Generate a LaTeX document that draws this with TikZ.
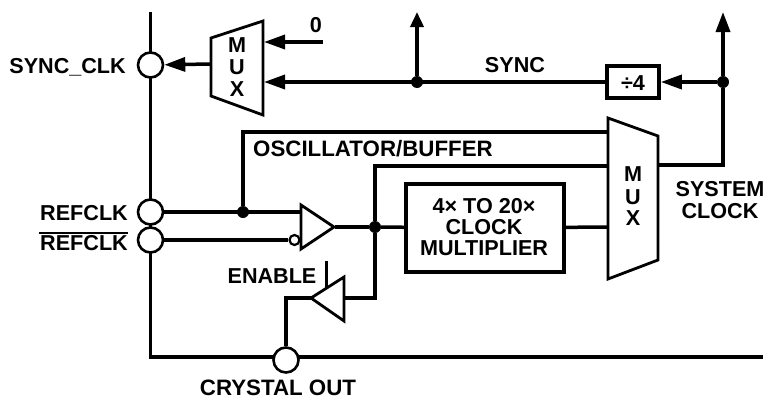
\documentclass[tikz,border=0pt]{standalone}
\usepackage{fontspec}
\setmainfont{Liberation Sans}
\usetikzlibrary{arrows.meta,calc}
\tikzset{
  wire/.style={line width=3.5pt,line cap=butt,line join=miter},
  arr/.style={wire,-{Triangle[length=21pt,width=14pt]}},
  arrup/.style={wire,-{Triangle[length=15pt,width=13pt]}},
  pin/.style={circle,draw,line width=2.6pt,fill=white,minimum size=25pt,inner sep=0pt},
  dotj/.style={circle,fill=black,minimum size=12pt,inner sep=0pt},
  lab/.style={font=\fontsize{21.6}{24}\selectfont\bfseries,inner sep=0pt,text depth=0pt},
  labw/.style={font=\fontsize{22.3}{24}\selectfont\bfseries,inner sep=0pt,text depth=0pt},
  shp/.style={line width=2.8pt,line join=miter,fill=white},
  blockb/.style={draw,line width=3.6pt,fill=white,inner sep=0pt},
}
\begin{document}
\begin{tikzpicture}[x=1pt,y=-1pt]
\useasboundingbox (0,0) rectangle (763,399);
% named points
\coordinate (railtop) at (150.5,12);
\coordinate (railbot) at (150.5,357);
\coordinate (botend) at (763,357);
\coordinate (muxaout) at (211,64);
\coordinate (muxain0) at (264,42);
\coordinate (zero) at (323,42);
\coordinate (muxainS) at (264,82);
\coordinate (uparrowA) at (417,12);
\coordinate (uparrowB) at (723,12);
\coordinate (oscT) at (608,132);
\coordinate (oscC) at (243,132);
\coordinate (fbT) at (608,166);
\coordinate (fbC) at (375,166);
\coordinate (muxbOut) at (658,165);
\coordinate (sysC) at (723,165);
\coordinate (muxbIn) at (608,227);
\coordinate (bufaIn) at (301,212);
\coordinate (bufaOut) at (335,227);
\coordinate (bufbIn) at (344,298);
\coordinate (bufbOut) at (312,298);
\coordinate (bufbC) at (375,298);
\coordinate (xtalC) at (286,298);
\coordinate (enT) at (326.5,261);
\coordinate (enB) at (326.5,288);
% rails behind pins
\draw[wire] (railtop) -- (railbot) -- (botend);
% junctions
\node[dotj] (jS) at (417,82) {};
\node[dotj] (jD) at (723,82) {};
\node[dotj] (jO) at (243,212) {};
\node[dotj] (jB) at (375,227) {};
% wires
\node[pin] (psync) at (150.5,65) {};
\node[pin] (pref) at (150.5,212) {};
\node[pin] (prefb) at (150.5,240) {};
\node[pin] (pxtal) at (286,360) {};
\node[blockb,minimum width=52pt,minimum height=32pt] (div) at (633,82) {};
\node[blockb,minimum width=158pt,minimum height=88pt] (mult) at (485,228) {};
\node[circle,draw,line width=2.2pt,fill=white,minimum size=10pt,inner sep=0pt] (bub) at (294.5,240) {};
\draw[arr] (muxaout) -- (psync);
\draw[arr] (zero) -- (muxain0);
\draw[arr] (div) -- (muxainS);
\draw[arr] (jD) -- (div);
\draw[arrup] (jS) -- (uparrowA);
\draw[wire] (muxbOut) -- (sysC) -- (jD);
\draw[wire,-{Triangle[length=20pt,width=14pt]}] (jD) -- (uparrowB);
\draw[wire] (oscT) -- (oscC) -- (jO);
\draw[wire] (pref) -- (bufaIn);
\draw[wire] (prefb) -- (bub);
\draw[wire] (fbT) -- (fbC) -- (jB);
\draw[wire] (jB) -- (mult);
\draw[wire] (mult) -- (muxbIn);
\draw[wire] (bufaOut) -- (jB);
\draw[wire] (jB) -- (bufbC) -- (bufbIn);
\draw[wire] (bufbOut) -- (xtalC) -- (pxtal);
\draw[wire] (enT) -- (enB);
% shapes
\draw[shp] (211,38) -- (263,21) -- (263,115) -- (211,96) -- cycle;
\draw[shp] (608,118) -- (658,136) -- (658,260) -- (608,279) -- cycle;
\draw[shp] (301,205) -- (334,227) -- (301,249) -- cycle;
\draw[shp] (344,277) -- (311,298) -- (344,321) -- cycle;
% text
\node[lab,anchor=east] (tsync) at (126,66) {SYNC\_CLK};
\node[lab] (tm1) at (237,45.5) {M};
\node[lab] (tu1) at (237,67) {U};
\node[lab] (tx1) at (237,89) {X};
\node[lab] (tm2) at (633,174) {M};
\node[lab] (tu2) at (633,197) {U};
\node[lab] (tx2) at (633,218) {X};
\node[lab] (t0) at (316,25) {0};
\node[lab] (tS) at (515,65) {SYNC};
\node[lab] (td4) at (633,83) {÷4};
\node[labw,anchor=west] (tosc) at (253,148) {OSCILLATOR/BUFFER};
\node[lab] (t1) at (484,206) {4× TO 20×};
\node[lab] (t2) at (484,227) {CLOCK};
\node[lab] (t3) at (484,248) {MULTIPLIER};
\node[lab] (tsys1) at (720,189) {SYSTEM};
\node[lab] (tsys2) at (720,211) {CLOCK};
\node[lab,anchor=east] (tr1) at (128,213) {REFCLK};
\node[lab,anchor=east] (tr2) at (128,243) {REFCLK};
\draw[line width=1.3pt] (39,233) -- (128,233);
\node[lab] (ten) at (272,276) {ENABLE};
\node[labw] (tcr) at (278,388) {CRYSTAL OUT};
\end{tikzpicture}
\end{document}
